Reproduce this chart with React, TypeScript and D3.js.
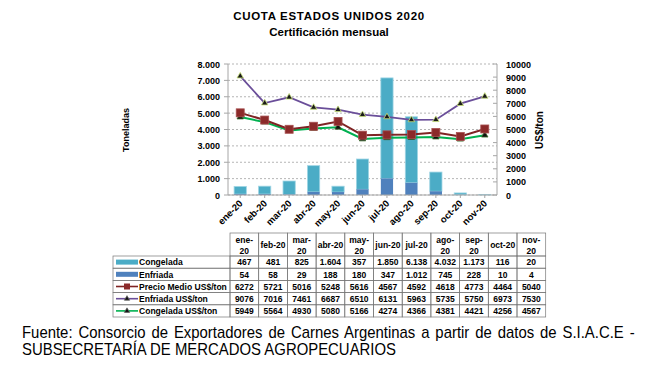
import * as React from 'react';
import * as d3 from 'd3';

const months = ['ene-20', 'feb-20', 'mar-20', 'abr-20', 'may-20', 'jun-20', 'jul-20', 'ago-20', 'sep-20', 'oct-20', 'nov-20'];
const tableHeads = [['ene-', '20'], ['feb-20'], ['mar-', '20'], ['abr-20'], ['may-', '20'], ['jun-20'], ['jul-20'], ['ago-', '20'], ['sep-', '20'], ['oct-20'], ['nov-', '20']];
const congelada = [467, 481, 825, 1604, 357, 1850, 6138, 4032, 1173, 116, 20];
const enfriada = [54, 58, 29, 188, 180, 347, 1012, 745, 228, 10, 4];
const precioMedio = [6272, 5721, 5016, 5248, 5616, 4567, 4592, 4618, 4773, 4464, 5040];
const enfriadaUsd = [9076, 7016, 7461, 6687, 6510, 6131, 5963, 5735, 5750, 6973, 7530];
const congeladaUsd = [5949, 5564, 4930, 5080, 5166, 4274, 4366, 4381, 4421, 4256, 4567];
const leftTicks = [0, 1000, 2000, 3000, 4000, 5000, 6000, 7000, 8000];
const rightTicks = [0, 1000, 2000, 3000, 4000, 5000, 6000, 7000, 8000, 9000, 10000];

const C_CONG = '#4BACC6';
const C_ENF = '#4F81BD';
const C_PRECIO = '#7F2424';
const C_ENF_USD = '#6A4E99';
const C_CONG_USD = '#00B050';

const esFmt = d3.formatLocale({ decimal: ',', thousands: '.', grouping: [3], currency: ['$', ''] }).format(',d');
const font = 'Liberation Sans, Arial, sans-serif';

const srcLine1 = 'Fuente: Consorcio de Exportadores de Carnes Argentinas a partir de datos de S.I.A.C.E -';
const srcLine2 = 'SUBSECRETARÍA DE MERCADOS AGROPECUARIOS';

// plot area
const plot = { left: 228, right: 497, top: 64, bottom: 195 };
const x = d3.scaleBand<string>().domain(months).range([plot.left, plot.right]);
const yL = d3.scaleLinear().domain([0, 8000]).range([plot.bottom, plot.top]);
const yR = d3.scaleLinear().domain([0, 10000]).range([plot.bottom, plot.top]);

// table
const tbl = { left: 113, colStart: 230, colW: 28.7, headTop: 233, rowTop: 256, rowH: 12.2 };

let ctx: CanvasRenderingContext2D | null = null;
function measure(text: string, f: string) {
  if (!ctx) ctx = document.createElement('canvas').getContext('2d');
  if (!ctx) return text.length * 6;
  ctx.font = f;
  return ctx.measureText(text).width;
}

const Tri = ({ cx, cy, fill, stroke, size = 18 }: { cx: number; cy: number; fill: string; stroke: string; size?: number }) => (
  <path d={d3.symbol(d3.symbolTriangle, size)()!} transform={`translate(${cx},${cy})`} fill={fill} stroke={stroke} strokeWidth={0.8} />
);

const series = [
  { name: 'Congelada', kind: 'bar', color: C_CONG, values: congelada, fmt: esFmt },
  { name: 'Enfriada', kind: 'bar', color: C_ENF, values: enfriada, fmt: esFmt },
  { name: 'Precio Medio US$/ton', kind: 'sq', color: C_PRECIO, values: precioMedio, fmt: (v: number) => String(v) },
  { name: 'Enfriada US$/ton', kind: 'tri', color: C_ENF_USD, values: enfriadaUsd, fmt: (v: number) => String(v) },
  { name: 'Congelada US$/ton', kind: 'tri', color: C_CONG_USD, values: congeladaUsd, fmt: (v: number) => String(v) },
];

export default function App() {
  const bw = x.bandwidth() * 0.5;
  const line = (vals: number[]) =>
    d3.line<number>().x((_, i) => x(months[i])! + x.bandwidth() / 2).y(v => yR(v))(vals)!;
  const cx = (i: number) => x(months[i])! + x.bandwidth() / 2;

  // source text: line 2 squeezed to its width, line 1 justified through word spacing
  const srcFont = `16px ${font}`;
  const w2 = measure(srcLine2, srcFont);
  const sx = 376 / w2;
  const w1 = measure(srcLine1, srcFont);
  const nSpaces = srcLine1.split(' ').length - 1;
  const wordSp = (614 / sx - w1) / nSpaces;

  // table label fit
  const tblFont = `bold 9px ${font}`;
  const labelMax = d3.max(series, s => measure(s.name, tblFont))!;
  const labelScale = Math.min(1, 88 / labelMax);

  return (
    <svg width={648} height={366} style={{ position: 'absolute', left: 0, top: 0, background: '#fff' }} fontFamily={font}>
      {/* titles */}
      <text x={329} y={20} textAnchor="middle" fontSize={11.5} fontWeight="bold" letterSpacing={0.7}>CUOTA ESTADOS UNIDOS 2020</text>
      <text x={329} y={36} textAnchor="middle" fontSize={11.5} fontWeight="bold">Certificación mensual</text>

      {/* grid */}
      {leftTicks.map(t => (
        <line key={t} x1={plot.left} x2={plot.right} y1={yL(t)} y2={yL(t)} stroke="#b5b5b5" strokeDasharray="2,2" strokeWidth={1} />
      ))}

      {/* bars (stacked) */}
      {months.map((m, i) => (
        <g key={m}>
          <rect x={x(m)! + (x.bandwidth() - bw) / 2} width={bw} y={yL(enfriada[i] + congelada[i])} height={yL(enfriada[i]) - yL(enfriada[i] + congelada[i])} fill={C_CONG} stroke="#9fd5e4" strokeWidth={0.8} />
          <rect x={x(m)! + (x.bandwidth() - bw) / 2} width={bw} y={yL(enfriada[i])} height={plot.bottom - yL(enfriada[i])} fill={C_ENF} />
        </g>
      ))}

      {/* axes */}
      <line x1={plot.left} x2={plot.left} y1={plot.top} y2={plot.bottom} stroke="#a6a6a6" />
      <line x1={plot.right} x2={plot.right} y1={plot.top} y2={plot.bottom} stroke="#a6a6a6" />
      <line x1={plot.left} x2={plot.right} y1={plot.bottom} y2={plot.bottom} stroke="#a6a6a6" />
      {leftTicks.map(t => (
        <g key={t}>
          <line x1={plot.left - 4} x2={plot.left} y1={yL(t)} y2={yL(t)} stroke="#a6a6a6" />
          <text x={plot.left - 8} y={yL(t) + 3.5} textAnchor="end" fontSize={9} fontWeight="bold">{esFmt(t)}</text>
        </g>
      ))}
      {rightTicks.map(t => (
        <g key={t}>
          <line x1={plot.right - 4} x2={plot.right} y1={yR(t)} y2={yR(t)} stroke="#a6a6a6" />
          <text x={plot.right + 9} y={yR(t) + 3.5} fontSize={9} fontWeight="bold">{t}</text>
        </g>
      ))}
      {months.map((m, i) => (
        <g key={m}>
          <line x1={cx(i)} x2={cx(i)} y1={plot.bottom} y2={plot.bottom + 3} stroke="#a6a6a6" />
          <text transform={`translate(${cx(i) + 3},${plot.bottom + 9}) rotate(-45)`} textAnchor="end" fontSize={9.5} fontWeight="bold">{m}</text>
        </g>
      ))}
      <text transform={`translate(129,130) rotate(-90)`} textAnchor="middle" fontSize={9} fontWeight="bold">Toneladas</text>
      <text transform={`translate(543,130) rotate(-90)`} textAnchor="middle" fontSize={10} fontWeight="bold">US$/ton</text>

      {/* lines */}
      <path d={line(congeladaUsd)} fill="none" stroke={C_CONG_USD} strokeWidth={2} />
      {congeladaUsd.map((v, i) => <Tri key={i} cx={cx(i)} cy={yR(v)} fill="#111" stroke="#3a6a2a" />)}
      <path d={line(enfriadaUsd)} fill="none" stroke={C_ENF_USD} strokeWidth={1.8} />
      {enfriadaUsd.map((v, i) => <Tri key={i} cx={cx(i)} cy={yR(v)} fill="#1a1a1a" stroke="#c8e07a" />)}
      <path d={line(precioMedio)} fill="none" stroke={C_PRECIO} strokeWidth={2} />
      {precioMedio.map((v, i) => (
        <rect key={i} x={cx(i) - 4} y={yR(v) - 4} width={8} height={8} fill="#8B2A2A" stroke="#a85050" strokeWidth={0.8} />
      ))}

      {/* table */}
      <g fontSize={8.5} fontWeight="bold">
        {tableHeads.map((h, i) => {
          const x0 = tbl.colStart + i * tbl.colW;
          return (
            <g key={i}>
              <rect x={x0} y={tbl.headTop} width={tbl.colW} height={tbl.rowTop - tbl.headTop} fill="none" stroke="#777" strokeWidth={0.7} />
              {h.length === 2 ? (
                <>
                  <text x={x0 + tbl.colW / 2} y={tbl.headTop + 10} textAnchor="middle">{h[0]}</text>
                  <text x={x0 + tbl.colW / 2} y={tbl.headTop + 20.5} textAnchor="middle">{h[1]}</text>
                </>
              ) : (
                <text x={x0 + tbl.colW / 2} y={tbl.headTop + 15} textAnchor="middle" textLength={Math.min(26, measure(h[0], `bold 8.5px ${font}`))} lengthAdjust="spacingAndGlyphs">{h[0]}</text>
              )}
            </g>
          );
        })}
        {series.map((s, r) => {
          const y0 = tbl.rowTop + r * tbl.rowH;
          const ym = y0 + tbl.rowH / 2;
          return (
            <g key={s.name}>
              <rect x={tbl.left} y={y0} width={tbl.colStart - tbl.left} height={tbl.rowH} fill="none" stroke="#777" strokeWidth={0.7} />
              {s.kind === 'bar' && <rect x={tbl.left + 3} y={ym - 2.5} width={22} height={5} fill={s.color} />}
              {s.kind !== 'bar' && <line x1={tbl.left + 3} x2={tbl.left + 25} y1={ym} y2={ym} stroke={s.color} strokeWidth={1.6} />}
              {s.kind === 'sq' && <rect x={tbl.left + 11} y={ym - 3} width={6} height={6} fill="#8B2A2A" />}
              {s.kind === 'tri' && <Tri cx={tbl.left + 14} cy={ym} fill="#111" stroke="#666" size={12} />}
              <text transform={`translate(${tbl.left + 26},${ym + 3.3}) scale(${labelScale},1)`} fontSize={9}>{s.name}</text>
              {s.values.map((v, i) => (
                <g key={i}>
                  <rect x={tbl.colStart + i * tbl.colW} y={y0} width={tbl.colW} height={tbl.rowH} fill="none" stroke="#777" strokeWidth={0.7} />
                  <text x={tbl.colStart + i * tbl.colW + tbl.colW / 2} y={ym + 3.3} textAnchor="middle">{s.fmt(v)}</text>
                </g>
              ))}
            </g>
          );
        })}
      </g>

      {/* source */}
      <g fontSize={16}>
        <text transform={`translate(22,338) scale(${sx},1)`} wordSpacing={wordSp}>{srcLine1}</text>
        <text transform={`translate(22,355) scale(${sx},1)`}>{srcLine2}</text>
      </g>
    </svg>
  );
}
